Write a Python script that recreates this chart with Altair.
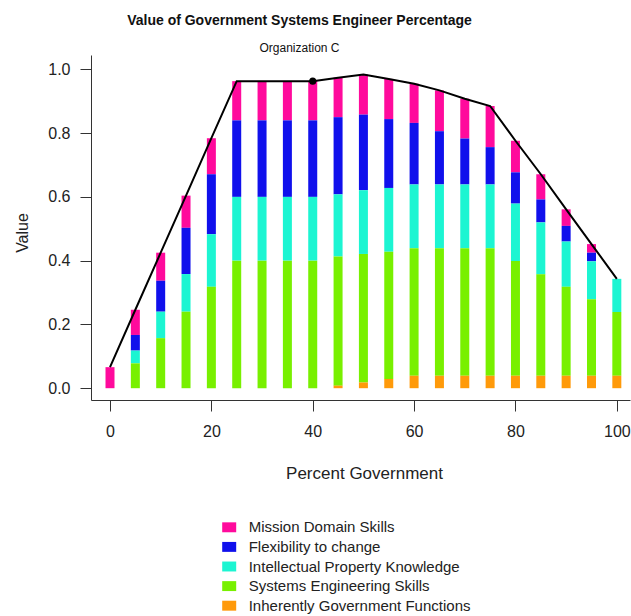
import altair as alt
import pandas as pd

# ---- data ----
pct_government = list(range(0, 101, 5))
categories = [
    "Mission Domain Skills",
    "Flexibility to change",
    "Intellectual Property Knowledge",
    "Systems Engineering Skills",
    "Inherently Government Functions",
]
mission = [0.066, 0.079, 0.088, 0.101, 0.113, 0.123, 0.123, 0.123, 0.123, 0.124, 0.126,
           0.126, 0.123, 0.128, 0.125, 0.129, 0.099, 0.079, 0.052, 0.027, 0.0]
flexibility = [0.0, 0.049, 0.097, 0.145, 0.188, 0.240, 0.240, 0.240, 0.240, 0.242, 0.237,
               0.216, 0.193, 0.167, 0.144, 0.117, 0.098, 0.072, 0.049, 0.027, 0.0]
ip_knowledge = [0.0, 0.040, 0.083, 0.118, 0.165, 0.200, 0.200, 0.200, 0.200, 0.195, 0.200,
                0.200, 0.200, 0.200, 0.200, 0.200, 0.180, 0.163, 0.142, 0.119, 0.104]
se_skills = [0.0, 0.078, 0.157, 0.240, 0.318, 0.400, 0.400, 0.400, 0.400, 0.405, 0.403,
             0.399, 0.400, 0.400, 0.400, 0.400, 0.360, 0.318, 0.279, 0.240, 0.200]
inherently_gov = [0.0, 0.0, 0.0, 0.0, 0.0, 0.0, 0.0, 0.0, 0.0, 0.008, 0.018,
                  0.029, 0.039, 0.039, 0.039, 0.039, 0.039, 0.039, 0.039, 0.039, 0.039]
highlight_pct = 40
colors = ["#FF0A9C", "#1010EC", "#1CF5D2", "#78F000", "#FF9A0A"]
stack_rank = [4, 3, 2, 1, 0]

series = [mission, flexibility, ip_knowledge, se_skills, inherently_gov]
rows = []
for cat, vals, rank in zip(categories, series, stack_rank):
    for p, v in zip(pct_government, vals):
        rows.append({"pct": p, "value": v, "category": cat, "rank": rank})
df = pd.DataFrame(rows)
totals = pd.DataFrame({"pct": pct_government,
                       "total": [sum(t) for t in zip(*series)]})
marker = totals[totals["pct"] == highlight_pct]

FONT = "Liberation Sans"
xscale = alt.Scale(domain=[-3.75, 102.6], nice=False, zero=False, padding=0)
yscale = alt.Scale(domain=[-0.037, 1.045], nice=False, zero=False, padding=0)

bars = alt.Chart(df).mark_bar(size=9).encode(
    x=alt.X("pct:Q", scale=xscale,
            axis=alt.Axis(values=[0, 20, 40, 60, 80, 100], format="d",
                          title="Percent Government", titleY=78, titleX=273,
                          titleAlign="center",
                          titleBaseline="alphabetic", titleFontWeight="normal",
                          titleFontSize=17, titleFont=FONT, titleColor="#222",
                          labelPadding=12)),
    y=alt.Y("value:Q", stack="zero", scale=yscale,
            axis=alt.Axis(values=[0, 0.2, 0.4, 0.6, 0.8, 1.0], format=".1f",
                          title="Value", titleX=-64, titleY=177.5,
                          titleAngle=-90, titleAlign="center",
                          titleBaseline="alphabetic", titleFontWeight="normal",
                          titleFontSize=16, titleFont=FONT, titleColor="#222",
                          labelPadding=10)),
    color=alt.Color("category:N",
                    scale=alt.Scale(domain=categories, range=colors),
                    legend=alt.Legend(title=None, orient="none",
                                      legendX=130.7, legendY=464.8,
                                      symbolType="M-1,-0.71H1V0.71H-1Z",
                                      symbolSize=196, symbolStrokeWidth=0,
                                      labelFont=FONT, labelFontSize=15,
                                      labelColor="#222", labelOffset=12,
                                      labelLimit=0,
                                      rowPadding=3.6, padding=0)),
    order=alt.Order("rank:Q", sort="ascending"),
)

line = alt.Chart(totals).mark_line(color="black", strokeWidth=2).encode(
    x=alt.X("pct:Q", scale=xscale),
    y=alt.Y("total:Q", scale=yscale),
)

dot = alt.Chart(marker).mark_point(filled=True, color="black", size=50, opacity=1).encode(
    x=alt.X("pct:Q", scale=xscale),
    y=alt.Y("total:Q", scale=yscale),
)

chart = alt.layer(bars, line, dot).properties(
    width=539, height=345,
    autosize=alt.AutoSizeParams(type="none"),
    padding={"left": 91, "top": 55, "right": 1, "bottom": 216},
    title=alt.TitleParams(
        "Value of Government Systems Engineer Percentage",
        subtitle="Organization C",
        font=FONT, fontSize=14, fontWeight="bold",
        subtitleFont=FONT, subtitleFontSize=12, subtitleColor="#111",
        color="#111", anchor="middle", dx=-61, offset=1, subtitlePadding=15,
    ),
).configure_view(stroke=None).configure_axis(
    grid=False, domainColor="#333", tickColor="#333", tickSize=11,
    labelFont=FONT, labelFontSize=16, labelColor="#222",
    domainWidth=1, tickWidth=1,
)

chart.save("out.html", embed_options={"renderer": "svg", "actions": False})
